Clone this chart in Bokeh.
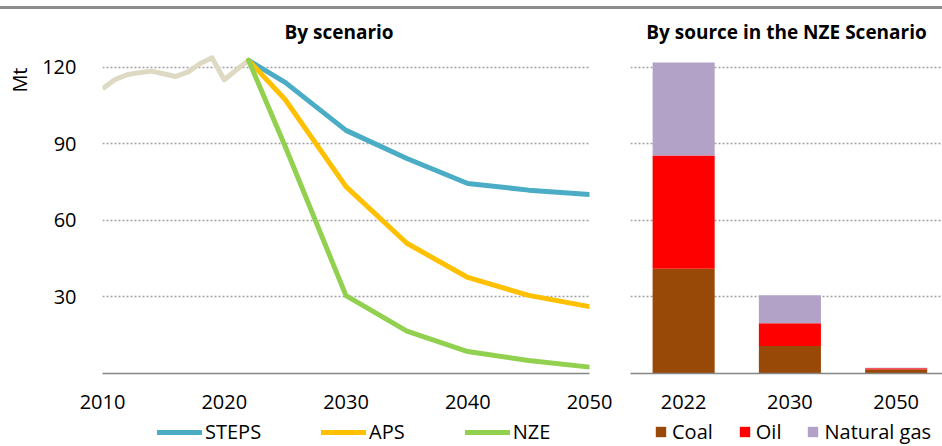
from bokeh.plotting import figure
from bokeh.models import FixedTicker, Legend, Range1d, ColumnDataSource, Title, BoxAnnotation
from bokeh.layouts import row, column
from bokeh.embed import file_html
from bokeh.resources import INLINE

FONT = "Open Sans"
NAN = float("nan")

# ---- data ----
hist_years = [2010, 2011, 2012, 2013, 2014, 2015, 2016, 2017, 2018, 2019, 2020, 2021, 2022]
hist_vals = [111.5, 115.0, 117.0, 117.8, 118.4, 117.4, 116.3, 118.0, 121.3, 123.6, 115.0, 118.9, 122.6]

proj_years = [2022, 2025, 2030, 2035, 2040, 2045, 2050]
steps = [122.6, 114.0, 95.2, 84.2, 74.4, 71.8, 70.1]
aps = [122.6, 107.3, 73.2, 51.0, 37.6, 30.6, 26.2]
nze = [122.6, 89.0, 30.5, 16.6, 8.6, 5.1, 2.5]

x_ticks = [2010, 2020, 2030, 2040, 2050]
y_ticks = [30, 60, 90, 120]

bar_years = ["2022", "2030", "2050"]
coal = [41.0, 10.8, 1.6]
oil = [44.4, 8.9, 0.5]
gas = [36.4, 10.9, 0.2]

# ---- styles ----
C_HIST = "#DDD9C3"
C_STEPS = "#4BACC6"
C_APS = "#FFC000"
C_NZE = "#92D050"
C_COAL = "#984807"
C_OIL = "#FF0000"
C_GAS = "#B3A2C7"
GRID = "#A0A0A0"
AXIS = "#868686"
RULE = "#8C8C8C"

H = 408
TOP = 32
BOT = 44
YMAX = 130
LEG_H = 28


def bare(p):
    p.outline_line_color = None
    p.grid.visible = False


def style_common(p):
    p.outline_line_color = None
    p.title.text_font = FONT
    p.title.text_font_size = "19px"
    p.title.text_font_style = "bold"
    p.title.text_color = "#000000"
    p.title.standoff = -6
    p.xgrid.visible = False
    p.ygrid.ticker = FixedTicker(ticks=y_ticks)
    p.ygrid.grid_line_color = GRID
    p.ygrid.grid_line_width = 1.6
    p.ygrid.grid_line_dash = "2 2"
    p.xaxis.axis_line_color = AXIS
    p.xaxis.axis_line_width = 1.6
    p.xaxis.major_tick_line_color = None
    p.xaxis.minor_tick_line_color = None
    p.xaxis.major_label_standoff = 15
    p.xaxis.major_label_text_font = FONT
    p.xaxis.major_label_text_font_size = "20px"
    p.xaxis.major_label_text_color = "#000000"


def make_legend(items, loc, spacing, gw, gh, standoff):
    return Legend(items=items, orientation="horizontal", location=loc,
                  spacing=spacing, glyph_width=gw, glyph_height=gh,
                  label_standoff=standoff, padding=0, margin=0,
                  border_line_color=None, background_fill_alpha=0,
                  label_text_font=FONT, label_text_font_size="20px",
                  label_text_color="#000000")


# ---- top rule ----
p0 = figure(width=942, height=3, min_border=0, margin=(6, 0, 0, 0),
            x_axis_location=None, y_axis_location=None,
            output_backend="svg", toolbar_location=None,
            border_fill_alpha=0, background_fill_alpha=0,
            styles={"background-color": RULE},
            stylesheets=[":host { background-color: %s; }" % RULE])
bare(p0)
p0.add_layout(BoxAnnotation(fill_color=RULE, fill_alpha=1.0, line_color=None))

# ---- left chart ----
p1 = figure(width=620, height=H, x_range=Range1d(2010, 2050), y_range=Range1d(0, YMAX),
            min_border_left=101, min_border_right=31, min_border_top=TOP, min_border_bottom=BOT,
            output_backend="svg", toolbar_location=None, title="By scenario")
style_common(p1)
p1.title.align = "left"
p1.title.offset = 182
p1.xaxis.ticker = FixedTicker(ticks=x_ticks)
p1.yaxis.ticker = FixedTicker(ticks=y_ticks)
p1.yaxis.axis_line_color = None
p1.yaxis.major_tick_line_color = None
p1.yaxis.minor_tick_line_color = None
p1.yaxis.major_label_standoff = 20
p1.yaxis.major_label_text_font = FONT
p1.yaxis.major_label_text_font_size = "20px"
p1.yaxis.major_label_text_color = "#000000"

unit_title = Title(text="Mt", align="right", offset=26, vertical_align="top", standoff=10,
                   text_font=FONT, text_font_size="20px", text_font_style="normal",
                   text_color="#000000")
p1.add_layout(unit_title, "left")

p1.line(hist_years, hist_vals, line_color=C_HIST, line_width=5, line_join="round")
p1.line(proj_years, steps, line_color=C_STEPS, line_width=5, line_join="round", line_cap="round")
p1.line(proj_years, aps, line_color=C_APS, line_width=5, line_join="round", line_cap="round")
p1.line(proj_years, nze, line_color=C_NZE, line_width=5, line_join="round", line_cap="round")

# ---- right chart ----
xs = list(range(len(bar_years)))
src = ColumnDataSource(dict(x=xs, Coal=coal, Oil=oil, Gas=gas))
p2 = figure(width=322, height=H, x_range=Range1d(-0.5, 2.436), y_range=Range1d(0, YMAX),
            min_border_left=10, min_border_right=0, min_border_top=TOP, min_border_bottom=BOT,
            output_backend="svg", toolbar_location=None, title="By source in the NZE Scenario")
style_common(p2)
p2.title.align = "center"
p2.yaxis.visible = False
p2.xaxis.ticker = FixedTicker(ticks=xs)
p2.xaxis.major_label_overrides = {i: y for i, y in enumerate(bar_years)}
p2.vbar_stack(["Coal", "Oil", "Gas"], x="x", width=0.584, source=src,
              fill_color=[C_COAL, C_OIL, C_GAS], line_color=None)

# ---- legends (own strips under each chart; legend-only glyphs hold no data) ----
p3 = figure(width=620, height=LEG_H, min_border=0, x_axis_location=None, y_axis_location=None,
            output_backend="svg", toolbar_location=None)
bare(p3)
l_steps = p3.line(x=[NAN], y=[NAN], line_color=C_STEPS, line_width=5, line_cap="round")
l_aps = p3.line(x=[NAN], y=[NAN], line_color=C_APS, line_width=5, line_cap="round")
l_nze = p3.line(x=[NAN], y=[NAN], line_color=C_NZE, line_width=5, line_cap="round")
p3.add_layout(make_legend([("STEPS", [l_steps]), ("APS", [l_aps]), ("NZE", [l_nze])],
                          (157, 0), 60, 45, 20, 3))

p4 = figure(width=322, height=LEG_H, min_border=0, x_axis_location=None, y_axis_location=None,
            output_backend="svg", toolbar_location=None)
bare(p4)
b_coal = p4.vbar(x=[NAN], top=[NAN], width=0.5, fill_color=C_COAL, line_color=None)
b_oil = p4.vbar(x=[NAN], top=[NAN], width=0.5, fill_color=C_OIL, line_color=None)
b_gas = p4.vbar(x=[NAN], top=[NAN], width=0.5, fill_color=C_GAS, line_color=None)
p4.add_layout(make_legend([("Coal", [b_coal]), ("Oil", [b_oil]), ("Natural gas", [b_gas])],
                          (34, 0), 25, 13, 13, 5))

layout = column(p0, row(p1, p2), row(p3, p4))

open("out.html", "w").write(file_html(layout, INLINE))
